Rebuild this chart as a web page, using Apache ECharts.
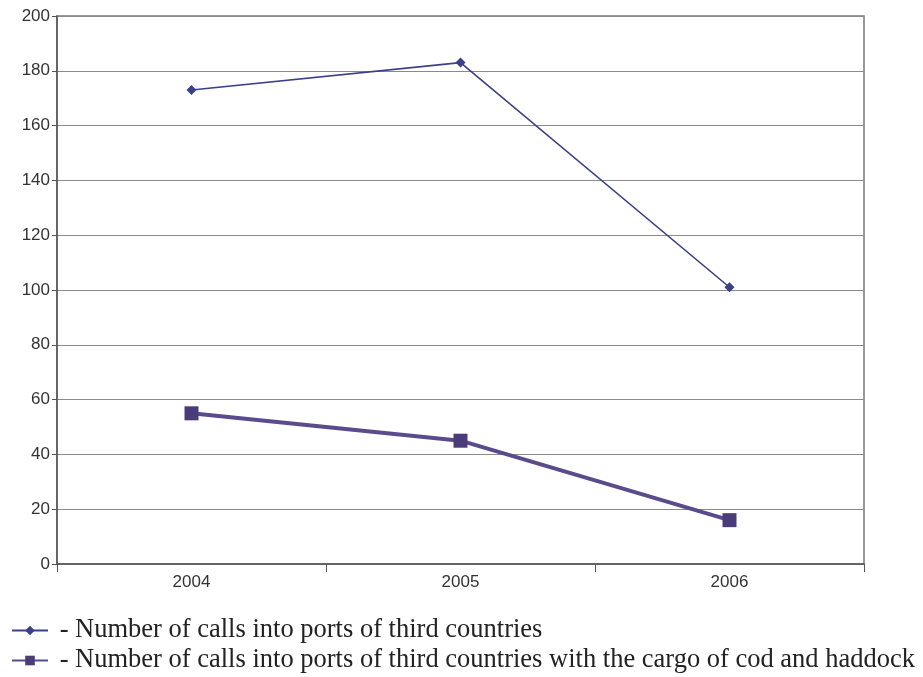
<!DOCTYPE html>
<html>
<head>
<meta charset="utf-8">
<script src="https://cdn.jsdelivr.net/npm/echarts@6/dist/echarts.min.js"></script>
<style>
  html, body { margin: 0; padding: 0; background: #ffffff; }
  #chart { width: 923px; height: 677px; }
</style>
</head>
<body>
<div id="chart"></div>
<script>
// Port calls by year
const years = ['2004', '2005', '2006'];
const callsAll = [173, 183, 101];
const callsCodHaddock = [55, 45, 16];
const yTicks = [0, 20, 40, 60, 80, 100, 120, 140, 160, 180, 200];
const seriesNames = [
  'Number of calls into ports of third countries',
  'Number of calls into ports of third countries with the cargo of cod and haddock'
];

const legendText = { fontFamily: 'Liberation Serif', fontSize: 26.5, lineHeight: 26, color: '#222' };
const legendRows = [612, 642];

const chart = echarts.init(document.getElementById('chart'));
chart.setOption({
  backgroundColor: '#ffffff',
  animation: false,
  grid: { left: 57, right: 59, top: 16, bottom: 113, show: true, borderColor: '#777', borderWidth: 1.5 },
  legend: seriesNames.map((name, i) => ({
    orient: 'horizontal',
    left: 6,
    top: legendRows[i],
    itemWidth: 36,
    itemHeight: 12,
    data: [name],
    formatter: n => ' - ' + n,
    textStyle: legendText
  })),
  xAxis: {
    type: 'category',
    data: years,
    boundaryGap: true,
    axisLine: { lineStyle: { color: '#555', width: 1.5 } },
    axisTick: { show: true, inside: false, length: 8, lineStyle: { color: '#555' } },
    axisLabel: { fontFamily: 'Liberation Sans', fontSize: 17, color: '#333', margin: 10 }
  },
  yAxis: {
    type: 'value',
    min: yTicks[0],
    max: yTicks[yTicks.length - 1],
    interval: 20,
    axisLine: { show: true, lineStyle: { color: '#555', width: 1.5 } },
    axisTick: { show: true, length: 5, lineStyle: { color: '#555' } },
    axisLabel: { fontFamily: 'Liberation Sans', fontSize: 17, color: '#333', margin: 7 },
    splitLine: { lineStyle: { color: '#8a8a8a', width: 1.2 } }
  },
  series: [
    {
      name: seriesNames[0],
      type: 'line',
      data: callsAll,
      symbol: 'diamond',
      symbolSize: 10,
      lineStyle: { color: '#3b4088', width: 1.6 },
      itemStyle: { color: '#3b4088' }
    },
    {
      name: seriesNames[1],
      type: 'line',
      data: callsCodHaddock,
      symbol: 'rect',
      symbolSize: 14,
      lineStyle: { color: '#5b4a8c', width: 4 },
      itemStyle: { color: '#4a3c78' }
    }
  ]
});
</script>
</body>
</html>
